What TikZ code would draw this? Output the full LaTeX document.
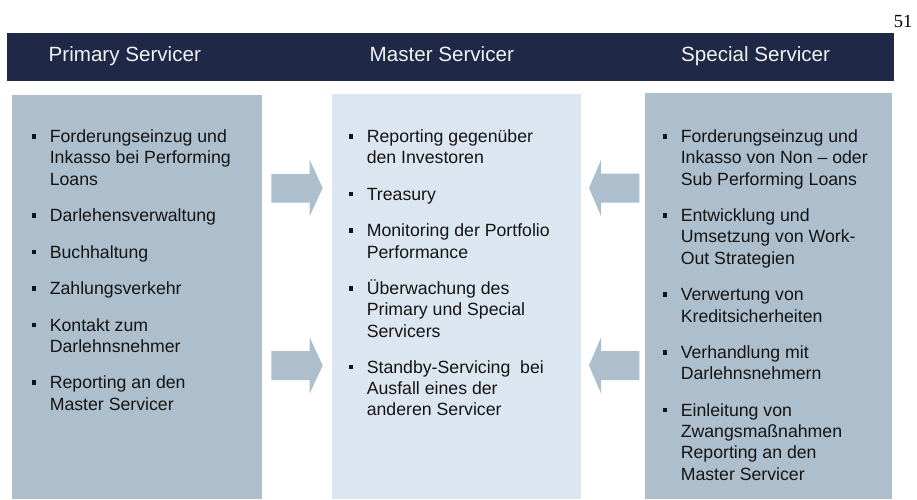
\documentclass[tikz,border=0pt]{standalone}
\usepackage{fontspec}
\setmainfont{Liberation Sans}
\newfontfamily\pagenumfont{Liberation Serif}
\definecolor{navy}{HTML}{1F2846}
\definecolor{boxblue}{HTML}{ADBFCD}
\definecolor{paleblue}{HTML}{DCE6F0}
\definecolor{txt}{HTML}{141414}
\definecolor{headtxt}{HTML}{F2F2F2}
\newcommand{\bul}{\llap{\rule[4pt]{4.5pt}{4.5pt}\hspace{13.5pt}}}
\tikzset{
  colbox/.style={fill=boxblue, draw=none, inner sep=0, outer sep=0, anchor=north west},
  midbox/.style={fill=paleblue, draw=none, inner sep=0, outer sep=0, anchor=north west},
  headtext/.style={anchor=base west, inner sep=0, text=headtxt, font=\fontsize{20.6}{24}\selectfont},
  itemtext/.style={anchor=base west, align=left, inner sep=0, text=txt, font=\fontsize{17.7}{21.3}\selectfont},
  blockarrow/.style={fill=boxblue, draw=none}
}
\begin{document}
\begin{tikzpicture}[x=1pt, y=-1pt]
\useasboundingbox (0,0) rectangle (917,499);
\fill[white] (0,0) rectangle (917,499);
% page number
\node[anchor=base east, inner sep=0, font=\pagenumfont\fontsize{18.5}{20}\selectfont] (pnum) at (912.5,27.2) {51};
% header band
\node[fill=navy, draw=none, inner sep=0, anchor=north west, minimum width=887pt, minimum height=48pt] (band) at (7,33) {};
\node[headtext] (hprim) at (48.5,61.5) {Primary Servicer};
\node[headtext] (hmast) at (369.5,61.5) {Master Servicer};
\node[headtext] (hspec) at (681,61.5) {Special Servicer};
% column boxes
\node[colbox, minimum width=250pt, minimum height=404pt] (pbox) at (12,95) {};
\node[midbox, minimum width=249pt, minimum height=405pt] (mbox) at (332,94) {};
\node[colbox, minimum width=247pt, minimum height=406pt] (sbox) at (645,93) {};
% block arrows
\fill[blockarrow] (271.3,174) -- (309.7,174) -- (309.7,160) -- (322.7,188) -- (309.7,216) -- (309.7,202.5) -- (271.3,202.5) -- cycle;
\fill[blockarrow] (271.3,351) -- (309.7,351) -- (309.7,337.5) -- (322.7,365.5) -- (309.7,393.5) -- (309.7,380) -- (271.3,380) -- cycle;
\fill[blockarrow] (639.3,173.5) -- (601,173.5) -- (601,160) -- (589,188) -- (601,216) -- (601,202.5) -- (639.3,202.5) -- cycle;
\fill[blockarrow] (639.3,351) -- (601,351) -- (601,337.5) -- (589,365.5) -- (601,393.5) -- (601,380) -- (639.3,380) -- cycle;
% primary servicer items (anchored at the baseline of the last line)
\node[itemtext] (p1) at (49.6,185.1) {\bul Forderungseinzug und\\Inkasso bei Performing\\Loans};
\node[itemtext] (p2) at (49.6,221.6) {\bul Darlehensverwaltung};
\node[itemtext] (p3) at (49.6,258.1) {\bul Buchhaltung};
\node[itemtext] (p4) at (49.6,294.6) {\bul Zahlungsverkehr};
\node[itemtext] (p5) at (49.6,352.4) {\bul Kontakt zum\\Darlehnsnehmer};
\node[itemtext] (p6) at (49.6,410.2) {\bul Reporting an den\\Master Servicer};
% master servicer items
\node[itemtext] (m1) at (366.6,163.8) {\bul Reporting gegenüber\\den Investoren};
\node[itemtext] (m2) at (366.6,200.3) {\bul Treasury};
\node[itemtext] (m3) at (366.6,258.1) {\bul Monitoring der Portfolio\\Performance};
\node[itemtext] (m4) at (366.6,337.2) {\bul Überwachung des\\Primary und Special\\Servicers};
\node[itemtext] (m5) at (366.6,415.6) {\bul Standby-Servicing\ \ bei\\Ausfall eines der\\anderen Servicer};
% special servicer items
\node[itemtext] (s1) at (680.6,185.1) {\bul Forderungseinzug und\\Inkasso von Non – oder\\Sub Performing Loans};
\node[itemtext] (s2) at (680.6,264.2) {\bul Entwicklung und\\Umsetzung von Work-\\Out Strategien};
\node[itemtext] (s3) at (680.6,322.0) {\bul Verwertung von\\Kreditsicherheiten};
\node[itemtext] (s4) at (680.6,379.8) {\bul Verhandlung mit\\Darlehnsnehmern};
\node[itemtext] (s5) at (680.6,480.2) {\bul Einleitung von\\Zwangsmaßnahmen\\Reporting an den\\Master Servicer};
\end{tikzpicture}
\end{document}
